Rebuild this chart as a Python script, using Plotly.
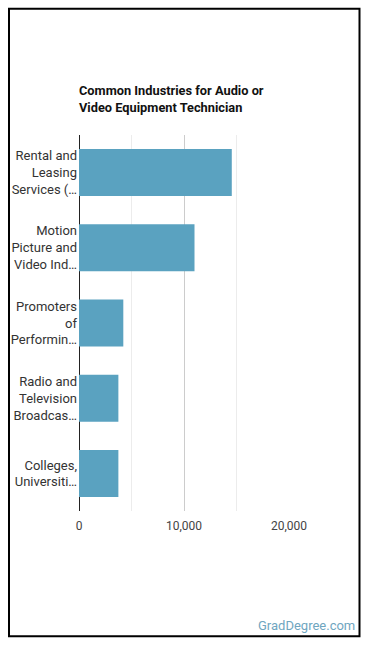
import plotly.graph_objects as go

categories = [
    "Rental and<br>Leasing<br>Services (…",
    "Motion<br>Picture and<br>Video Ind…",
    "Promoters<br>of<br>Performin…",
    "Radio and<br>Television<br>Broadcas…",
    "Colleges,<br>Universiti…",
]
values = [14550, 11000, 4220, 3750, 3750]
tick_vals = [0, 10000, 20000]
tick_text = ["0", "10,000", "20,000"]
title_text = "Common Industries for Audio or<br>Video Equipment Technician"

W, H = 370, 648
L, R, T, B = 79, 289, 135, 511.5
pw, ph = R - L, B - T

def px_x(x):
    return (x - L) / pw

def px_y(y):
    return (B - y) / ph

fig = go.Figure(go.Bar(
    x=values, y=categories, orientation="h",
    marker=dict(color="#5aa2c0", line=dict(width=0)),
    hoverinfo="skip",
))

fig.update_layout(
    width=W, height=H,
    margin=dict(l=L, r=W - R, t=T, b=H - B, pad=0),
    paper_bgcolor="white", plot_bgcolor="white",
    font=dict(family="Roboto", size=13, color="#333333"),
    bargap=0.375,
    showlegend=False,
    xaxis=dict(
        range=[0, 20000], tickvals=tick_vals, ticktext=tick_text,
        showgrid=True, gridcolor="#cccccc", gridwidth=1,
        minor=dict(dtick=5000, tick0=0, showgrid=True, gridcolor="#ececec", gridwidth=1),
        zeroline=True, zerolinecolor="#222222", zerolinewidth=1,
        tickfont=dict(size=12, color="#444444"), ticks="", fixedrange=True,
        ticklabelstandoff=6,
    ),
    yaxis=dict(
        autorange="reversed", showgrid=False, zeroline=False,
        tickfont=dict(size=13, color="#333333"), ticks="", fixedrange=True,
        ticklabelstandoff=1,
    ),
    annotations=[
        dict(text="<b>" + title_text + "</b>", xref="paper", yref="paper",
             x=px_x(77), y=px_y(99), xanchor="left", yanchor="middle", align="left",
             showarrow=False, font=dict(size=12.8, color="#111111")),
        dict(text="GradDegree.com", xref="paper", yref="paper",
             x=px_x(357), y=px_y(626), xanchor="right", yanchor="middle",
             showarrow=False, font=dict(size=13, color="#6fa6bf")),
    ],
    shapes=[
        dict(type="rect", xref="paper", yref="paper",
             x0=px_x(9), x1=px_x(359.5), y0=px_y(637), y1=px_y(8.5),
             line=dict(color="black", width=2), fillcolor="rgba(0,0,0,0)", layer="above"),
    ],
)

fig.write_html("out.html", config={"displayModeBar": False})
